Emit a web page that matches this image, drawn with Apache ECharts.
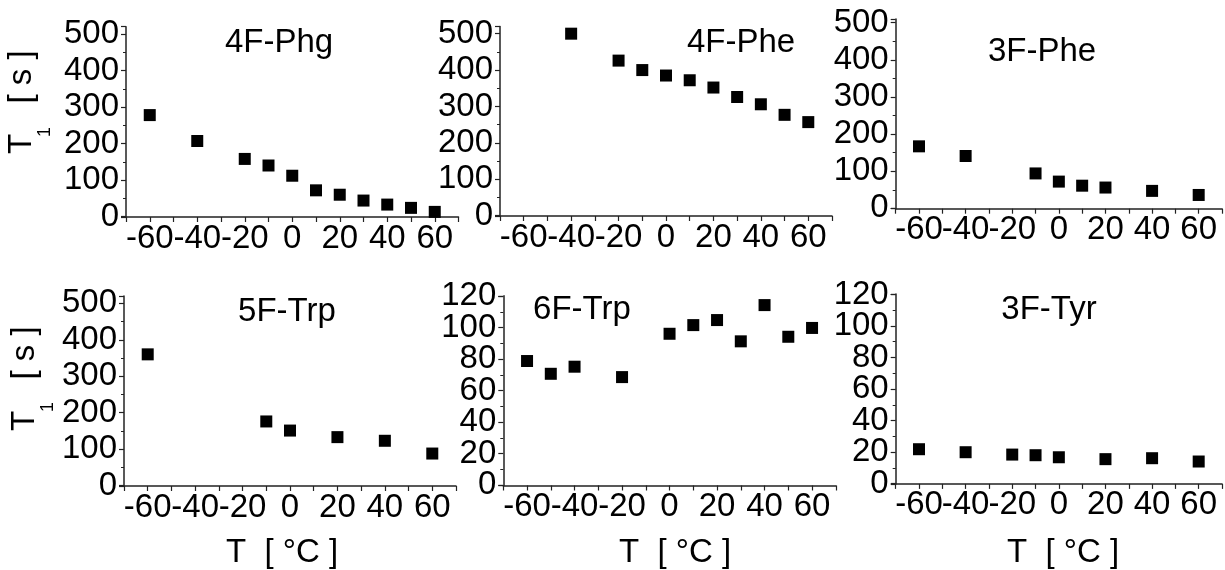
<!DOCTYPE html>
<html>
<head>
<meta charset="utf-8">
<title>T1 vs temperature</title>
<script src="https://cdn.jsdelivr.net/npm/echarts@6/dist/echarts.min.js"></script>
<style>
  html, body { margin: 0; background: #fff; }
  #main { width: 1225px; height: 570px; }
</style>
</head>
<body>
<div id="main"></div>
<script>
  // data: temperature (°C) and T1 (s)
  var temps4FPhg = [-60, -40, -20, -10, 0, 10, 20, 30, 40, 50, 60]
  var t1_4FPhg = [278, 207, 158, 140, 112, 72, 60, 44, 33, 24, 13]
  var temps4FPhe = [-40, -20, -10, 0, 10, 20, 30, 40, 50, 60]
  var t1_4FPhe = [500, 426, 400, 385, 372, 352, 326, 306, 277, 257]
  var temps3FPhe = [-60, -40, -10, 0, 10, 20, 40, 60]
  var t1_3FPhe = [167, 141, 94, 72, 61, 56, 47, 36]
  var temps5FTrp = [-60, -10, 0, 20, 40, 60]
  var t1_5FTrp = [360, 176, 151, 133, 123, 88]
  var temps6FTrp = [-60, -50, -40, -20, 0, 10, 20, 30, 40, 50, 60]
  var t1_6FTrp = [78.8, 70.7, 75.2, 68.6, 96.1, 101.6, 104.8, 91.3, 114.3, 94.2, 99.8]
  var temps3FTyr = [-60, -40, -20, -10, 0, 20, 40, 60]
  var t1_3FTyr = [21.8, 19.9, 18.4, 18.0, 16.7, 15.5, 16.1, 14.0]

  var panelNames = ['4F-Phg', '4F-Phe', '3F-Phe', '5F-Trp', '6F-Trp', '3F-Tyr']
  var xTicks = [-60, -40, -20, 0, 20, 40, 60]

  var FONT = '"Liberation Sans", Arial, sans-serif'
  var FS = 33
  var INK = '#222'

  var seriesData = [
    [temps4FPhg, t1_4FPhg], [temps4FPhe, t1_4FPhe], [temps3FPhe, t1_3FPhe],
    [temps5FTrp, t1_5FTrp], [temps6FTrp, t1_6FTrp], [temps3FTyr, t1_3FTyr]
  ]

  // layout of each small plot (pixels) and its y scale
  var panels = [
    { left: 126, top: 26.7, width: 332.5, height: 190.3, ymin: -1, ymax: 520, step: 100, top2: 500, title: [279, 43] },
    { left: 500, top: 26.4, width: 332, height: 189.6, ymin: -1, ymax: 520, step: 100, top2: 500, title: [741, 43] },
    { left: 895.7, top: 19, width: 332.5, height: 189.7, ymin: -1, ymax: 510, step: 100, top2: 500, title: [1042, 52] },
    { left: 124, top: 296, width: 332, height: 190, ymin: -1, ymax: 520, step: 100, top2: 500, title: [287, 312] },
    { left: 503.3, top: 295.8, width: 332.5, height: 189.7, ymin: -0.2, ymax: 120.2, step: 20, top2: 120, title: [582, 310] },
    { left: 895.7, top: 294.1, width: 332.5, height: 189.8, ymin: -0.2, ymax: 120.2, step: 20, top2: 120, title: [1049, 310] }
  ]

  var grids = [], xAxes = [], yAxes = [], series = [], graphics = []

  panels.forEach(function (p, i) {
    grids.push({ left: p.left, top: p.top, width: p.width, height: p.height })
    xAxes.push({
      type: 'value',
      gridIndex: i,
      min: -70,
      max: 70,
      interval: 10,
      axisLine: { onZero: false, lineStyle: { color: INK, width: 1.5 } },
      axisTick: { length: 5, lineStyle: { color: INK, width: 1.2 } },
      axisLabel: {
        margin: 5,
        color: '#000',
        fontSize: FS,
        fontFamily: FONT,
        showMinLabel: true,
        showMaxLabel: true,
        formatter: function (v) { return xTicks.indexOf(v) >= 0 ? String(v) : '' }
      },
      splitLine: { show: false }
    })
    // extent sits a hair outside 0 / top so the end ticks are blank and
    // the real labels (0, 20 ... 120) are never dropped for overlapping
    yAxes.push({
      type: 'value',
      gridIndex: i,
      min: p.ymin,
      max: p.ymax,
      minInterval: p.step,
      maxInterval: p.step,
      axisLine: { show: true, onZero: false, lineStyle: { color: INK, width: 1.5 } },
      axisTick: { show: true, length: 5, lineStyle: { color: INK, width: 1.2 } },
      minorTick: { show: true, splitNumber: 2, length: 3, lineStyle: { color: INK, width: 1 } },
      axisLabel: {
        margin: 7,
        color: '#000',
        fontSize: FS,
        fontFamily: FONT,
        showMinLabel: false,
        showMaxLabel: false,
        formatter: function (v) { return (v % p.step === 0 && v >= 0 && v <= p.top2) ? String(v) : '' }
      },
      splitLine: { show: false }
    })
    var xs = seriesData[i][0], ys = seriesData[i][1]
    series.push({
      type: 'scatter',
      xAxisIndex: i,
      yAxisIndex: i,
      symbol: 'rect',
      symbolSize: 12,
      itemStyle: { color: '#000', opacity: 1 },
      data: xs.map(function (x, k) { return [x, ys[k]] })
    })
    graphics.push({
      type: 'text',
      x: p.title[0],
      y: p.title[1],
      style: { text: panelNames[i], fontSize: FS, fontFamily: FONT, fill: '#000', align: 'center', verticalAlign: 'middle' }
    })
  })

  // axis titles
  function yTitle (x, yT, ySub, yUnit) {
    graphics.push({ type: 'text', x: x, y: yT, rotation: Math.PI / 2,
      style: { text: 'T', fontSize: FS, fontFamily: FONT, fill: '#000', align: 'center', verticalAlign: 'middle' } })
    graphics.push({ type: 'text', x: x + 23, y: ySub, rotation: Math.PI / 2,
      style: { text: '1', fontSize: 18, fontFamily: FONT, fill: '#000', align: 'center', verticalAlign: 'middle' } })
    graphics.push({ type: 'text', x: x, y: yUnit, rotation: Math.PI / 2,
      style: { text: '[ s ]', fontSize: FS, fontFamily: FONT, fill: '#000', align: 'center', verticalAlign: 'middle' } })
  }
  yTitle(22, 144, 132, 77)
  yTitle(25, 421, 407, 353)

  ;[282, 675, 1063].forEach(function (cx) {
    graphics.push({ type: 'text', x: cx, y: 553,
      style: { text: 'T  [ °C ]', fontSize: FS, fontFamily: FONT, fill: '#000', align: 'center', verticalAlign: 'middle' } })
  })

  var myChart = echarts.init(document.getElementById('main'))
  myChart.setOption({
    animation: false,
    backgroundColor: '#fff',
    grid: grids,
    xAxis: xAxes,
    yAxis: yAxes,
    series: series,
    graphic: graphics
  })
</script>
</body>
</html>
